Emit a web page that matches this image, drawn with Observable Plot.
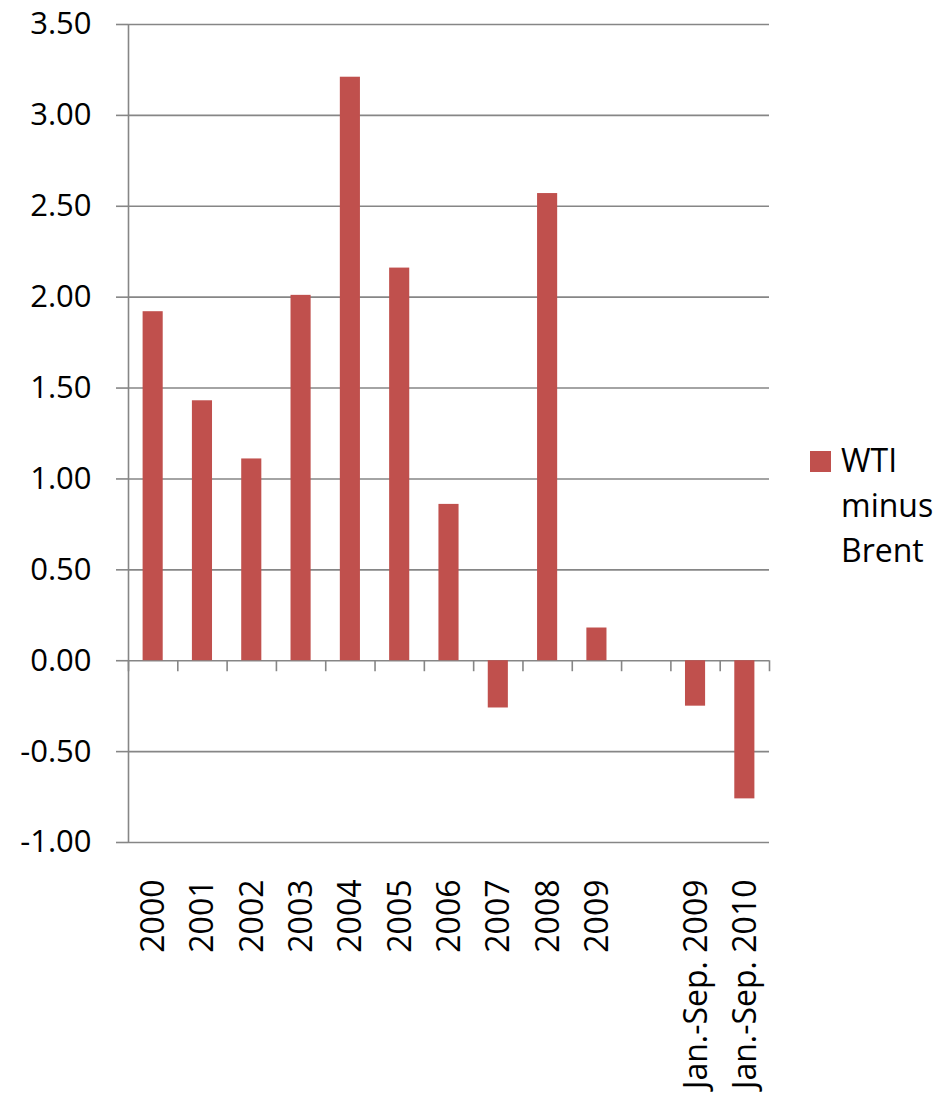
<!DOCTYPE html>
<html>
<head>
<meta charset="utf-8">
<script src="https://cdn.jsdelivr.net/npm/d3@7"></script>
<script src="https://cdn.jsdelivr.net/npm/@observablehq/plot@0.6"></script>
<style>
  html, body { margin: 0; padding: 0; background: #fff; }
  #wrap { position: relative; width: 937px; height: 1097px; font-family: "Open Sans", sans-serif; }
  #legend { position: absolute; left: 810px; top: 437px; font-size: 32px; line-height: 45px; color: #000; white-space: nowrap; }
  #legend .sw { position: absolute; left: 0; top: 14px; width: 21px; height: 21px; background: #C0504D; }
  #legend .lab { position: absolute; left: 31px; top: 0; }
</style>
</head>
<body>
<div id="wrap">
  <div id="chart"></div>
  <div id="legend"><div class="sw"></div><div class="lab">WTI<br>minus<br>Brent</div></div>
</div>
<script>
const categories = ["2000", "2001", "2002", "2003", "2004", "2005", "2006", "2007", "2008", "2009", "", "Jan.-Sep. 2009", "Jan.-Sep. 2010"];
const values = [1.92, 1.43, 1.11, 2.01, 3.21, 2.16, 0.86, -0.26, 2.57, 0.18, null, -0.25, -0.76];
const yTicks = [-1.0, -0.5, 0.0, 0.5, 1.0, 1.5, 2.0, 2.5, 3.0, 3.5];

const data = categories.map((c, i) => ({cat: c, idx: i, value: values[i]}));
const bars = data.filter(d => d.value != null);
const boundaries = d3.range(categories.length + 1);
const gray = "#868686";

const chart = Plot.plot({
  width: 937,
  height: 1097,
  marginLeft: 128,
  marginRight: 168,
  marginTop: 24,
  marginBottom: 255,
  style: {fontFamily: "Open Sans", fontSize: "32px", color: "#000", background: "#fff"},
  x: {type: "linear", domain: [0, categories.length], axis: null},
  y: {domain: [-1, 3.5], axis: null},
  marks: [
    Plot.gridY(yTicks, {stroke: gray, strokeOpacity: 1, strokeWidth: 1.6}),
    Plot.axisY(yTicks, {label: null, tickFormat: d => d.toFixed(2), tickSize: 12, tickPadding: 25, stroke: gray, strokeWidth: 1.6, fill: "#000", fontSize: 31}),
    Plot.rectY(bars, {x1: d => d.idx, x2: d => d.idx + 1, y: "value", fill: "#C0504D", insetLeft: 14.6, insetRight: 14.6}),
    Plot.ruleX([0], {stroke: gray, strokeWidth: 1.6}),
    Plot.ruleX(boundaries, {x: d => d, y1: 0, y2: 0, insetBottom: -11, stroke: gray, strokeWidth: 1.6}),
    Plot.text(data, {x: d => d.idx + 0.5, text: "cat", frameAnchor: "bottom", rotate: -90, textAnchor: "end", dy: 37, dx: 11, fontSize: 32, fill: "#000"})
  ]
});
document.getElementById("chart").appendChild(chart);
</script>
</body>
</html>
